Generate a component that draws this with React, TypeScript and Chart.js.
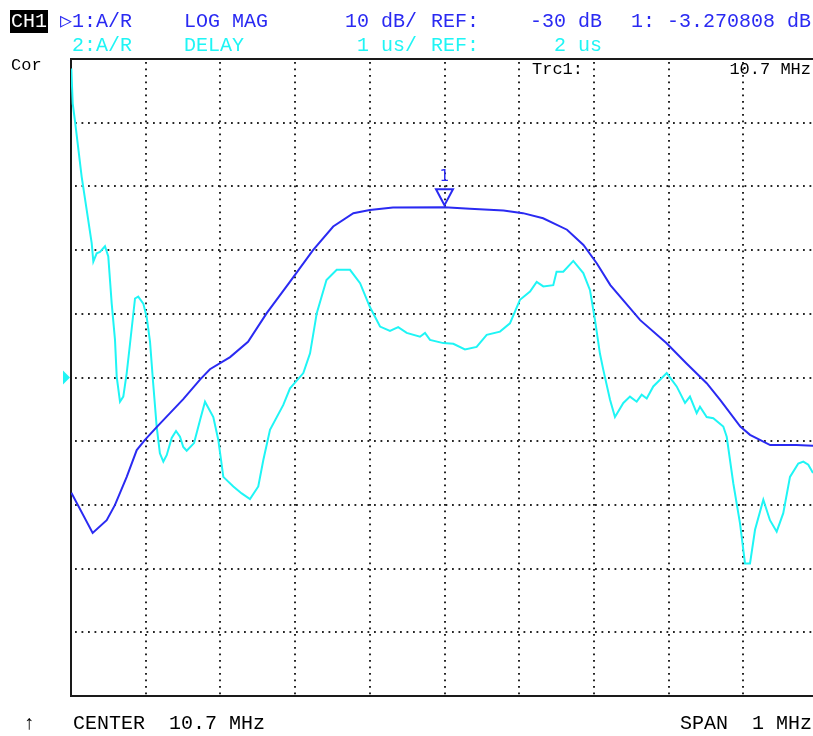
import React, { useEffect, useRef } from "react";
import { Chart, registerables } from "chart.js";

Chart.register(...registerables);

// Frequency axis (MHz): CENTER 10.7 MHz, SPAN 1 MHz
const centerMHz = 10.7;
const spanMHz = 1;
const xGridMHz = [10.3, 10.4, 10.5, 10.6, 10.7, 10.8, 10.9, 11.0, 11.1];

// Trace 1: A/R LOG MAG, 10 dB/div, REF -30 dB
const magFreqMHz = [
  10.2004, 10.229, 10.2478, 10.2589, 10.2746, 10.288, 10.299, 10.3147, 10.3325, 10.3503,
  10.373, 10.386, 10.413, 10.437, 10.462, 10.493, 10.524, 10.551, 10.578, 10.6,
  10.631, 10.7, 10.734, 10.779, 10.805, 10.832, 10.864, 10.886, 10.904, 10.922,
  10.962, 10.997, 11.024, 11.051, 11.069, 11.096, 11.109, 11.136, 11.171, 11.193, 11.2,
];
const magDb = [
  -48.1, -54.4, -52.4, -50.0, -45.6, -41.4, -39.8, -37.8, -35.6, -33.4,
  -30.3, -28.7, -26.8, -24.4, -19.9, -15.0, -10.0, -6.3, -4.2, -3.7,
  -3.3, -3.27, -3.5, -3.8, -4.2, -5.0, -6.8, -9.2, -12.1, -15.5,
  -21.0, -24.6, -27.8, -30.9, -33.5, -37.7, -39.0, -40.6, -40.6, -40.7, -40.7,
];

// Trace 2: A/R DELAY, 1 us/div, REF 2 us
const delayFreqMHz = [
  10.2004, 10.2023, 10.2054, 10.2143, 10.221, 10.2277, 10.2299, 10.2344, 10.2388, 10.2455,
  10.2499, 10.2545, 10.2589, 10.2612, 10.2656, 10.27, 10.2746, 10.279, 10.2857, 10.29,
  10.2968, 10.3013, 10.3058, 10.31, 10.3147, 10.319, 10.3236, 10.3281, 10.3348, 10.3406,
  10.3459, 10.3503, 10.3549, 10.3647, 10.3727, 10.3794, 10.3905, 10.3972, 10.4039, 10.4173,
  10.4285, 10.4396, 10.4507, 10.4574, 10.4664, 10.4842, 10.4932, 10.511, 10.52, 10.529,
  10.542, 10.5557, 10.5735, 10.587, 10.6, 10.6137, 10.627, 10.638, 10.6494, 10.6672,
  10.6739, 10.6806, 10.6984, 10.7118, 10.7274, 10.743, 10.7565, 10.7743, 10.7876, 10.801,
  10.8145, 10.8234, 10.8323, 10.8456, 10.85, 10.859, 10.8724, 10.8858, 10.8948, 10.9015,
  10.908, 10.9126, 10.9216, 10.9282, 10.9394, 10.9483, 10.9573, 10.964, 10.9707, 10.9795,
  10.9975, 11.0108, 11.022, 11.0286, 11.0376, 11.042, 11.051, 11.0598, 11.0732, 11.0778,
  11.0866, 11.0956, 11.1023, 11.109, 11.1157, 11.1268, 11.1357, 11.1447, 11.1535, 11.1625,
  11.1736, 11.1803, 11.187, 11.1933,
];
const delayUs = [
  6.85, 6.3, 6.02, 5.15, 4.63, 4.11, 3.82, 3.95, 3.97, 4.06,
  3.9, 3.16, 2.59, 2.01, 1.62, 1.7, 2.07, 2.53, 3.24, 3.27,
  3.16, 2.95, 2.56, 1.91, 1.23, 0.81, 0.68, 0.78, 1.05, 1.16,
  1.07, 0.91, 0.85, 0.97, 1.33, 1.62, 1.38, 1.02, 0.44, 0.29,
  0.18, 0.09, 0.29, 0.7, 1.18, 1.57, 1.83, 2.07, 2.38, 3.01,
  3.53, 3.69, 3.69, 3.48, 3.11, 2.8, 2.73, 2.79, 2.7, 2.64,
  2.7, 2.59, 2.54, 2.53, 2.44, 2.48, 2.67, 2.72, 2.85, 3.22,
  3.35, 3.5, 3.43, 3.45, 3.66, 3.66, 3.83, 3.64, 3.37, 2.9,
  2.38, 2.12, 1.65, 1.38, 1.6, 1.7, 1.62, 1.73, 1.67, 1.86,
  2.07, 1.86, 1.6, 1.7, 1.44, 1.54, 1.38, 1.36, 1.23, 1.07,
  0.34, -0.29, -0.92, -0.92, -0.39, 0.08, -0.24, -0.42, -0.13, 0.44,
  0.65, 0.68, 0.63, 0.5,
];

const magRefDb = -30;
const magPerDiv = 10;
const delayRefUs = 2;
const delayPerDiv = 1;
const refDivision = 5; // reference line position (divisions from bottom)
const markerMHz = 10.7;
const markerDb = -3.27;

const BLUE = "#2a2af2";
const CYAN = "#1ff5f5";
const MONO = '"Liberation Mono", "DejaVu Sans Mono", monospace';

const gridPlugin = {
  id: "vnaGrid",
  beforeDatasetsDraw(chart: any) {
    const { ctx, chartArea, scales } = chart;
    const x = scales.x;
    const y = scales.y;
    ctx.save();
    ctx.strokeStyle = "#262626";
    ctx.lineWidth = 2;
    ctx.setLineDash([1.8, 4.7]);
    xGridMHz.forEach((f) => {
      const px = Math.round(x.getPixelForValue(f));
      ctx.beginPath();
      ctx.moveTo(px, chartArea.top + 3);
      ctx.lineTo(px, chartArea.bottom);
      ctx.stroke();
    });
    for (let i = 1; i < 10; i++) {
      const v = y.min + i * magPerDiv;
      const py = Math.round(y.getPixelForValue(v));
      ctx.beginPath();
      ctx.moveTo(chartArea.left + 4, py);
      ctx.lineTo(chartArea.right, py);
      ctx.stroke();
    }
    ctx.setLineDash([]);
    ctx.strokeStyle = "#1a1a1a";
    ctx.lineWidth = 2;
    ctx.beginPath();
    ctx.moveTo(chartArea.right, chartArea.top);
    ctx.lineTo(chartArea.left, chartArea.top);
    ctx.lineTo(chartArea.left, chartArea.bottom);
    ctx.lineTo(chartArea.right, chartArea.bottom);
    ctx.stroke();
    ctx.restore();
  },
  afterDatasetsDraw(chart: any) {
    const { ctx, chartArea, scales } = chart;
    const x = scales.x;
    const y = scales.y;
    ctx.save();
    // reference position triangle (left)
    const ry = y.getPixelForValue(magRefDb);
    ctx.fillStyle = CYAN;
    ctx.beginPath();
    ctx.moveTo(chartArea.left - 8, ry - 7);
    ctx.lineTo(chartArea.left - 1, ry);
    ctx.lineTo(chartArea.left - 8, ry + 7);
    ctx.closePath();
    ctx.fill();
    // marker 1
    const mx = x.getPixelForValue(markerMHz);
    const my = y.getPixelForValue(markerDb) - 2;
    ctx.strokeStyle = BLUE;
    ctx.lineWidth = 2;
    ctx.beginPath();
    ctx.moveTo(mx, my);
    ctx.lineTo(mx - 8.5, my - 16);
    ctx.lineTo(mx + 8.5, my - 16);
    ctx.closePath();
    ctx.stroke();
    ctx.fillStyle = BLUE;
    ctx.font = '15px "DejaVu Sans", sans-serif';
    ctx.textAlign = "center";
    ctx.textBaseline = "alphabetic";
    ctx.fillText("1", mx, my - 24);
    ctx.restore();
  },
};

const txt = (
  s: string,
  left: number,
  top: number,
  color: string,
  size = 20,
  align: "left" | "right" = "left"
) => {
  const style: React.CSSProperties = {
    position: "absolute",
    top,
    fontFamily: MONO,
    fontSize: size,
    lineHeight: `${size}px`,
    color,
    whiteSpace: "pre",
  };
  if (align === "left") style.left = left;
  else style.right = 813 - left;
  return (
    <div key={s + left + top} style={style}>
      {s}
    </div>
  );
};

export default function App() {
  const ref = useRef<HTMLCanvasElement | null>(null);

  useEffect(() => {
    if (!ref.current) return;
    const xMin = centerMHz - spanMHz / 2;
    const divW = 74.7;
    const xMax = xMin + ((813 - 71) / divW) * (spanMHz / 10);
    const chart = new Chart(ref.current, {
      type: "line",
      data: {
        datasets: [
          {
            label: "1:A/R LOG MAG",
            data: magFreqMHz.map((f, i) => ({ x: f, y: magDb[i] })),
            borderColor: BLUE,
            borderWidth: 2,
            pointRadius: 0,
            tension: 0,
            yAxisID: "y",
          },
          {
            label: "2:A/R DELAY",
            data: delayFreqMHz.map((f, i) => ({ x: f, y: delayUs[i] })),
            borderColor: CYAN,
            borderWidth: 2,
            pointRadius: 0,
            tension: 0,
            yAxisID: "y2",
          },
        ],
      },
      options: {
        animation: false,
        responsive: false,
        devicePixelRatio: 1,
        layout: { padding: { left: 71, top: 59, right: 0, bottom: 40 } },
        plugins: { legend: { display: false }, tooltip: { enabled: false } },
        scales: {
          x: { type: "linear", min: xMin, max: xMax, display: false },
          y: {
            type: "linear",
            min: magRefDb - refDivision * magPerDiv,
            max: magRefDb + (10 - refDivision) * magPerDiv,
            display: false,
          },
          y2: {
            type: "linear",
            min: delayRefUs - refDivision * delayPerDiv,
            max: delayRefUs + (10 - refDivision) * delayPerDiv,
            display: false,
          },
        },
      },
      plugins: [gridPlugin],
    });
    return () => chart.destroy();
  }, []);

  return (
    <div style={{ position: "fixed", left: 0, top: 0, width: 813, height: 736, background: "#fff", overflow: "hidden" }}>
      <canvas ref={ref} width={813} height={736} style={{ position: "absolute", left: 0, top: 0 }} />
      <div
        style={{
          position: "absolute",
          left: 10,
          top: 10,
          width: 38,
          height: 23,
          background: "#000",
        }}
      />
      {txt("CH1", 11, 12, "#fff")}
      {txt("\u25B71:A/R", 60, 12, BLUE)}
      {txt("LOG MAG", 184, 12, BLUE)}
      {txt("10 dB/", 345, 12, BLUE)}
      {txt("REF:", 431, 12, BLUE)}
      {txt("-30 dB", 602, 12, BLUE, 20, "right")}
      {txt("1: -3.270808 dB", 811, 12, BLUE, 20, "right")}
      {txt("2:A/R", 72, 36, CYAN)}
      {txt("DELAY", 184, 36, CYAN)}
      {txt("1 us/", 357, 36, CYAN)}
      {txt("REF:", 431, 36, CYAN)}
      {txt("2 us", 602, 36, CYAN, 20, "right")}
      {txt("Cor", 11, 57, "#000", 17)}
      {txt("Trc1:", 532, 61, "#000", 17)}
      {txt("10.7 MHz", 811, 61, "#000", 17, "right")}
      {txt("\u2191", 23, 714, "#000")}
      {txt("CENTER  10.7 MHz", 73, 714, "#000")}
      {txt("SPAN  1 MHz", 812, 714, "#000", 20, "right")}
    </div>
  );
}
